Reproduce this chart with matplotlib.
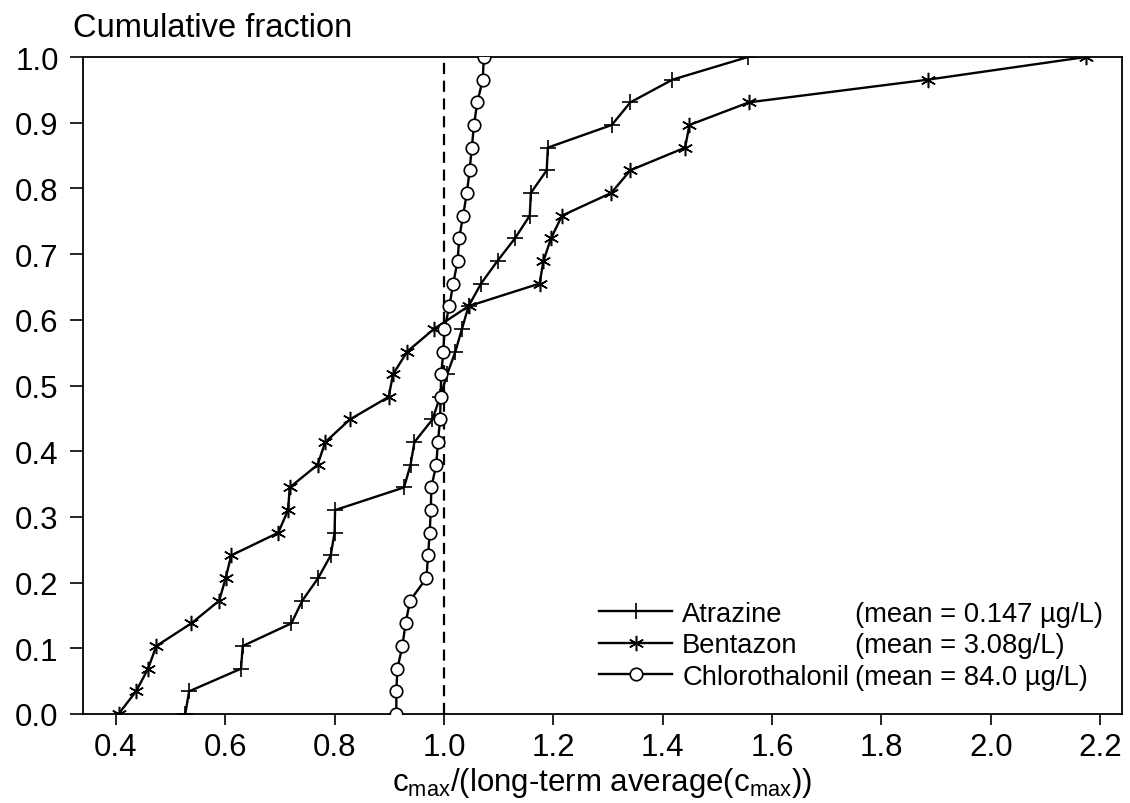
import matplotlib
matplotlib.use("Agg")
import matplotlib.pyplot as plt
import numpy as np

plt.rcParams['font.family'] = ['Liberation Sans', 'DejaVu Sans']
plt.rcParams['mathtext.fontset'] = 'custom'
plt.rcParams['mathtext.rm'] = 'Liberation Sans'
plt.rcParams['mathtext.it'] = 'Liberation Sans:italic'

# cumulative fraction levels (30 samples each)
frac = [i / 29 for i in range(30)]

atrazine = [0.527, 0.534, 0.629, 0.632, 0.721, 0.741, 0.770, 0.793, 0.800, 0.801,
            0.927, 0.939, 0.946, 0.979, 0.993, 1.006, 1.021, 1.033, 1.045, 1.068,
            1.098, 1.130, 1.157, 1.159, 1.188, 1.190, 1.307, 1.341, 1.418, 1.556]
bentazon = [0.405, 0.437, 0.459, 0.474, 0.538, 0.589, 0.601, 0.611, 0.697, 0.715,
            0.718, 0.769, 0.783, 0.828, 0.899, 0.907, 0.933, 0.982, 1.045, 1.175,
            1.182, 1.196, 1.216, 1.306, 1.341, 1.441, 1.449, 1.558, 1.885, 2.174]
chlorothalonil = [0.913, 0.913, 0.915, 0.924, 0.930, 0.938, 0.968, 0.971, 0.974, 0.976,
                  0.977, 0.986, 0.989, 0.993, 0.994, 0.995, 0.999, 1.001, 1.010, 1.017,
                  1.025, 1.028, 1.035, 1.042, 1.047, 1.051, 1.055, 1.061, 1.071, 1.073]

names = ['Atrazine', 'Bentazon', 'Chlorothalonil']
means = ['(mean = 0.147 \u00b5g/L)', '(mean = 3.08g/L)', '(mean = 84.0 \u00b5g/L)']

xticks = [0.4, 0.6, 0.8, 1.0, 1.2, 1.4, 1.6, 1.8, 2.0, 2.2]
yticks = [0.0, 0.1, 0.2, 0.3, 0.4, 0.5, 0.6, 0.7, 0.8, 0.9, 1.0]

FS = 22.5
LFS = 19.7
W, H = 1130, 804
fig = plt.figure(figsize=(W / 100, H / 100), dpi=100)
L, R, T, B = 83, 1122, 58, 715
ax = fig.add_axes([L / W, 1 - B / H, (R - L) / W, (B - T) / H])

lw = 1.7
h1, = ax.plot(atrazine, frac, color='black', lw=lw, marker='+', ms=12, mew=1.2,
              label=names[0], zorder=3)
h2, = ax.plot(bentazon, frac, color='black', lw=lw, marker=(6, 2, 0), ms=11, mew=1.1,
              label=names[1], zorder=3)
h3, = ax.plot(chlorothalonil, frac, color='black', lw=lw, marker='o', ms=9, mew=1.2,
              mfc='white', mec='black', label=names[2], zorder=4)

ax.plot([1.0, 1.0], [0.0, 1.0], color='black', lw=1.6, ls=(0, (5, 3)), zorder=2)

ax.set_xlim(0.34, 2.24)
ax.set_ylim(0.0, 1.0)
ax.set_xticks(xticks)
ax.set_xticklabels([f'{v:.1f}' for v in xticks])
ax.set_yticks(yticks)
ax.set_yticklabels([f'{v:.1f}' for v in yticks])
ax.tick_params(axis='y', direction='out', length=9.5, width=1.2, pad=8, labelsize=FS)
ax.tick_params(axis='x', direction='out', length=8, width=1.2, pad=5, labelsize=FS)
for s in ax.spines.values():
    s.set_linewidth(1.3)

ax.set_xlabel(r'c$_{\mathrm{max}}$/(long-term average(c$_{\mathrm{max}}$))',
              fontsize=FS, labelpad=2)
fig.text(73 / W, 1 - 37 / H, 'Cumulative fraction', fontsize=23.5, ha='left', va='baseline')

leg = ax.legend(handles=[h1, h2, h3], loc='lower left',
                bbox_to_anchor=((599 - L) / (R - L), 0.037),
                frameon=False, fontsize=LFS, numpoints=1, handlelength=2.67,
                handletextpad=0.37, labelspacing=0.2, borderpad=0, borderaxespad=0)

fig.canvas.draw()
renderer = fig.canvas.get_renderer()
texts = leg.get_texts()
x_start = max(t.get_window_extent(renderer).x1 for t in texts) + 6
for t, m in zip(texts, means):
    bb = t.get_window_extent(renderer)
    fig.text(x_start / W, bb.y0 / H, m, fontsize=LFS, ha='left', va='bottom')

fig.savefig('out.png', dpi=100)
